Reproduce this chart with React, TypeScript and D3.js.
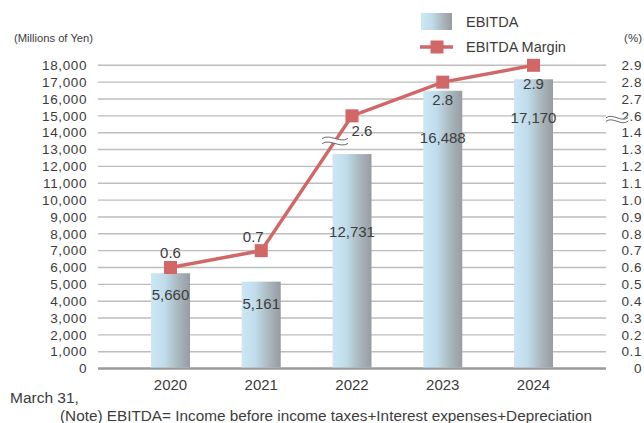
import React from "react";
import * as d3 from "d3";

const years = ["2020", "2021", "2022", "2023", "2024"];
const ebitda = [5660, 5161, 12731, 16488, 17170];
const margin = [0.6, 0.7, 2.6, 2.8, 2.9];
const leftTicks = d3.range(0, 18001, 1000);
const rightTickValues = [0, 0.1, 0.2, 0.3, 0.4, 0.5, 0.6, 0.7, 0.8, 0.9, 1.0, 1.1, 1.2, 1.3, 1.4, 2.6, 2.7, 2.8, 2.9];

// layout-only offsets for the value labels (px)
const barLabelDy = [22, 22, 78, 47, 38];
const marginLabelDx = [0, -8, 10, 0, 0];
const marginLabelDy = [-15, -14, 15, 18, 18];

const W = 644, H = 423;
const FONT = "'Liberation Sans', Arial, Helvetica, sans-serif";
const TXT = "#3c3c3c";

export default function App() {
  const y = d3.scaleLinear().domain([0, 18000]).range([368.6, 65.3]);
  const mapMargin = d3.scaleLinear().domain([0, 1.4, 2.6, 2.9]).range([0, 14000, 15000, 18000]);
  const yR = (m: number) => y(mapMargin(m));
  const x = d3.scalePoint<string>().domain(years).range([170.5, 533.5]);
  const barW = 39;
  const gridX0 = 98, gridX1 = 606;
  const fmt = d3.format(",");
  const line = d3.line<number>().x((_, i) => x(years[i])!).y((d) => yR(d));

  const wave = (cx: number, cy: number, w: number) => {
    const p = d3.path();
    p.moveTo(cx - w / 2, cy);
    p.bezierCurveTo(cx - w / 6, cy - 5, cx + w / 6, cy + 5, cx + w / 2, cy);
    return p.toString();
  };

  return (
    <svg width={W} height={H} style={{ position: "absolute", left: 0, top: 0 }} fontFamily={FONT}>
      <defs>
        <linearGradient id="barGrad" x1="0" x2="1" y1="0" y2="0">
          <stop offset="0%" stopColor="#cce6f4" />
          <stop offset="35%" stopColor="#c0dcea" />
          <stop offset="70%" stopColor="#aab6bd" />
          <stop offset="100%" stopColor="#959da2" />
        </linearGradient>
      </defs>
      <rect width={W} height={H} fill="#fff" />

      {/* gridlines */}
      {leftTicks.map((t) => (
        <line key={t} x1={gridX0} x2={gridX1} y1={y(t)} y2={y(t)}
          stroke={t === 0 ? "#9a9a9a" : "#bdbdbd"} strokeWidth={t === 0 ? 2.5 : 1.4} />
      ))}

      {/* left axis labels */}
      <text x={14} y={42} fontSize={11} fill={TXT} textLength={79} lengthAdjust="spacingAndGlyphs">(Millions of Yen)</text>
      {leftTicks.map((t) => (
        <text key={t} x={87} y={y(t)} dy="0.35em" textAnchor="end" fontSize={13.5} letterSpacing={0.6} fill={TXT}>{fmt(t)}</text>
      ))}

      {/* right axis labels */}
      <text x={642} y={42} textAnchor="end" fontSize={11.5} fill={TXT}>(%)</text>
      {rightTickValues.map((t) => (
        <text key={t} x={642} y={yR(t)} dy="0.35em" textAnchor="end" fontSize={13.5} letterSpacing={0.6} fill={TXT}>
          {t === 0 ? "0" : t.toFixed(1)}
        </text>
      ))}
      <g>
        <path d={wave(617, y(14500) - 5, 22)} fill="none" stroke="#fff" strokeWidth={3} />
        <path d={wave(617, y(14500) - 6.5, 22)} fill="none" stroke="#444" strokeWidth={0.8} />
        <path d={wave(617, y(14500) - 3, 22)} fill="none" stroke="#444" strokeWidth={0.8} />
      </g>

      {/* bars */}
      {ebitda.map((v, i) => (
        <rect key={years[i]} x={x(years[i])! - barW / 2} y={y(v)} width={barW} height={y(0) - y(v) - 1.2} fill="url(#barGrad)" />
      ))}
      {ebitda.map((v, i) => (
        <text key={"bl" + i} x={x(years[i])!} y={y(v) + barLabelDy[i]} dy="0.35em" textAnchor="middle" fontSize={15} fill={TXT}>{fmt(v)}</text>
      ))}

      {/* margin line */}
      <path d={line(margin)!} fill="none" stroke="#d26767" strokeWidth={3.5} />
      {/* break on line */}
      <g>
        <path d={wave(335, 141, 26)} fill="none" stroke="#fff" strokeWidth={5} />
        <path d={wave(335, 138.5, 26)} fill="none" stroke="#444" strokeWidth={0.8} />
        <path d={wave(335, 143.5, 26)} fill="none" stroke="#444" strokeWidth={0.8} />
      </g>
      {margin.map((m, i) => (
        <rect key={"mk" + i} x={x(years[i])! - 6.5} y={yR(m) - 6.5} width={13} height={13} fill="#d26767" />
      ))}
      {margin.map((m, i) => (
        <text key={"ml" + i} x={x(years[i])! + marginLabelDx[i]} y={yR(m) + marginLabelDy[i]} dy="0.35em" textAnchor="middle" fontSize={15} fill={TXT}>{m.toFixed(1)}</text>
      ))}

      {/* x labels */}
      {years.map((yr) => (
        <text key={yr} x={x(yr)!} y={390} textAnchor="middle" fontSize={15} fill={TXT}>{yr}</text>
      ))}
      <text x={10} y={403} fontSize={15.5} fill={TXT}>March 31,</text>
      <text x={60} y={421} fontSize={14} fill={TXT} textLength={532} lengthAdjust="spacingAndGlyphs">(Note) EBITDA= Income before income taxes+Interest expenses+Depreciation</text>

      {/* legend */}
      <rect x={421} y={13} width={31} height={17} fill="url(#barGrad)" />
      <text x={466} y={27} fontSize={14.5} fill={TXT}>EBITDA</text>
      <line x1={420} x2={453} y1={47} y2={47} stroke="#d26767" strokeWidth={3.5} />
      <rect x={430.5} y={40.5} width={13} height={13} fill="#d26767" />
      <text x={466} y={52} fontSize={14.5} fill={TXT}>EBITDA Margin</text>
    </svg>
  );
}
